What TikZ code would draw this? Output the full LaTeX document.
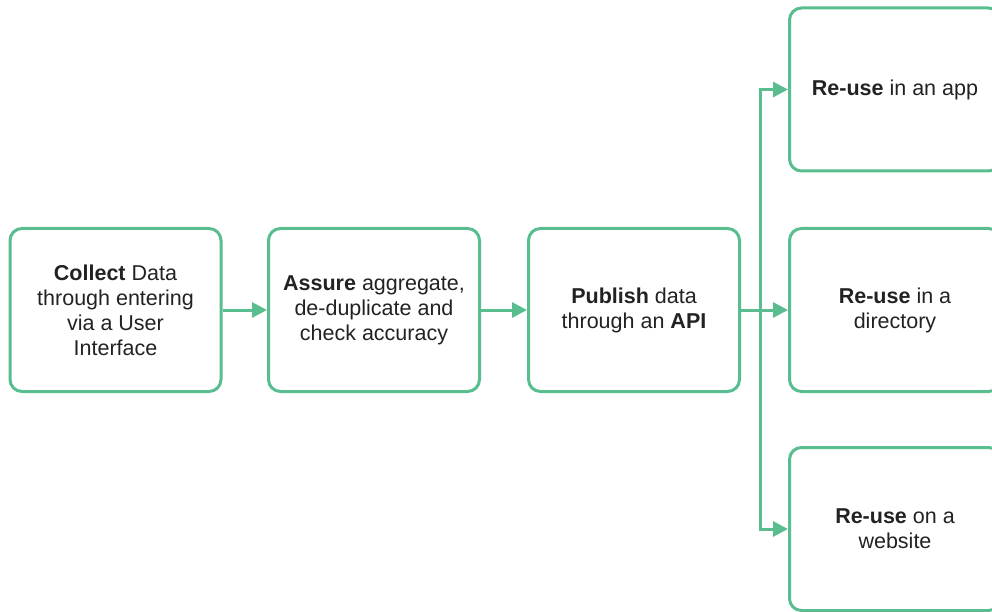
\documentclass[tikz,border=0pt]{standalone}
\usepackage{fontspec}
\setmainfont{Liberation Sans}
\usetikzlibrary{arrows.meta}

\definecolor{flowgreen}{HTML}{59BD90}
\definecolor{flowtext}{HTML}{222222}

\tikzset{
  stagebox/.style = {draw = flowgreen, line width = 3pt, rounded corners = 12pt,
                     minimum width = 211pt, minimum height = 163pt,
                     align = center, text = flowtext,
                     font = \fontsize{21.5pt}{25pt}\selectfont},
  flowarrow/.style = {draw = flowgreen, line width = 3pt,
                      -{Triangle[length = 15pt, width = 15pt]}}
}

\begin{document}
\begin{tikzpicture}[x = 1pt, y = -1pt]
				\useasboundingbox (0,0) rectangle (992,612);
				% pipeline stages
				\node[stagebox] (collect) at (115.5,310) {\textbf{Collect} Data\\through entering\\via a User\\Interface};
				\node[stagebox] (assure)  at (374,310)   {\textbf{Assure} aggregate,\\de-duplicate and\\check accuracy};
				\node[stagebox] (publish) at (634,310)   {\textbf{Publish} data\\through an \textbf{API}};
				% re-use targets
				\node[stagebox] (app)     at (895,89.5)  {\textbf{Re-use} in an app};
				\node[stagebox] (dir)     at (895,310)   {\textbf{Re-use} in a\\directory};
				\node[stagebox] (web)     at (895,529)   {\textbf{Re-use} on a\\website};
				% connectors
				\coordinate (fork) at (760,310);
				\draw[flowarrow] (collect) -- (assure);
				\draw[flowarrow] (assure) -- (publish);
				\draw[flowarrow] (publish) -- (dir);
				\draw[flowarrow] (fork) |- (app);
				\draw[flowarrow] (fork) |- (web);
			\end{tikzpicture}
\end{document}
